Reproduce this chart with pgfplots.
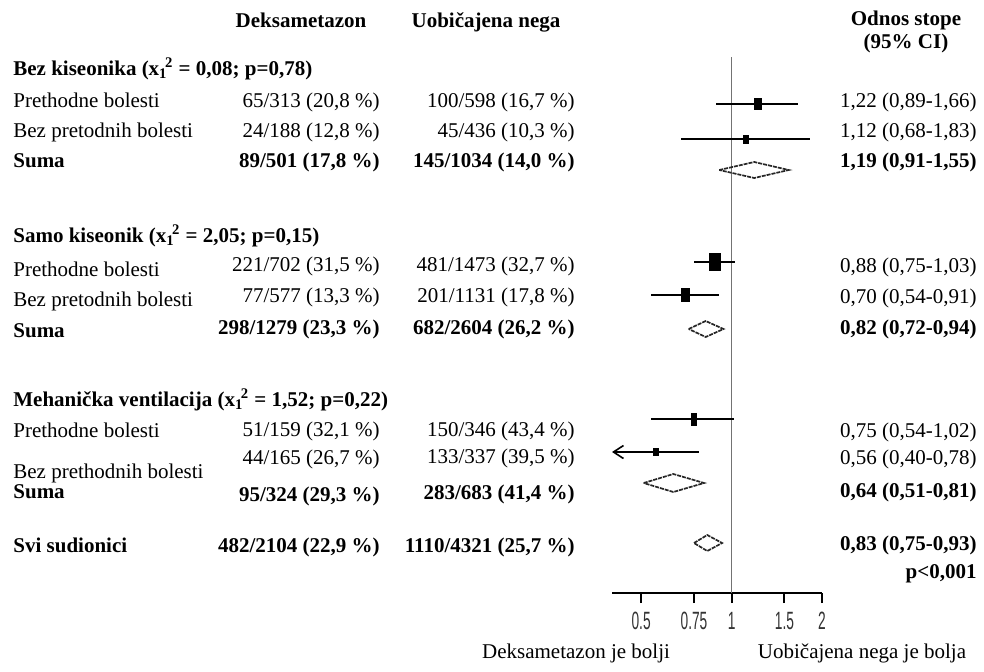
\documentclass[border=0pt]{standalone}
\usepackage{fontspec}
\setmainfont{Liberation Serif}
\newfontfamily\tickfont{Liberation Sans}
\usepackage{pgfplots}
\pgfplotsset{compat=1.18}
\usetikzlibrary{arrows.meta}
\newcommand\tl[1]{\scalebox{0.55}[1]{\tickfont #1}}
\newcommand\xchi{x\textsubscript{1}\kern-0.12em\textsuperscript{2}}
\begin{document}
\begin{tikzpicture}
\begin{scope}[x=0.5pt,y=-0.5pt]
\path[use as bounding box] (0,0) rectangle (984,671);
\end{scope}
\begin{axis}[
  at={(306pt,-296.5pt)}, anchor=south west,
  scale only axis, width=105pt, height=268pt,
  xmode=log, xmin=0.4, xmax=2, ymin=-593, ymax=-57,
  axis x line*=bottom, axis y line=none,
  xtick={0.5,0.75,1,1.5,2},
  xticklabels={\tl{0.5},\tl{0.75},\tl{1},\tl{1.5},\tl{2}},
  minor xtick={}, ytick={},
  tick align=outside, major tick length=5pt,
  x axis line style={line width=1.2pt},
  every tick/.style={black, line width=1pt},
  xticklabel style={text=black!80, font=\fontsize{12.5}{13}\selectfont, yshift=-1pt},
  clip=false,
]
% reference line
\addplot[black!55, line width=0.9pt] coordinates {(1,-57) (1,-593)};
% CI lines
\addplot[black, line width=1pt] coordinates {(0.89,-104) (1.66,-104)};
\addplot[black, line width=1pt] coordinates {(0.68,-139) (1.83,-139)};
\addplot[black, line width=1pt] coordinates {(0.75,-262) (1.03,-262)};
\addplot[black, line width=1pt] coordinates {(0.54,-295) (0.91,-295)};
\addplot[black, line width=1pt] coordinates {(0.54,-419) (1.02,-419)};
\addplot[black, line width=1pt, {Straight Barb[length=5pt,width=6.5pt,line width=0.8pt]}-] coordinates {(0.40,-452) (0.78,-452)};
% point estimates
\addplot[only marks, mark=square*, mark size=2.75pt, mark options={xscale=0.64}] coordinates {(1.22,-104)};
\addplot[only marks, mark=square*, mark size=2pt, mark options={xscale=0.63}] coordinates {(1.12,-139)};
\addplot[only marks, mark=square*, mark size=4.25pt, mark options={xscale=0.6}] coordinates {(0.88,-262)};
\addplot[only marks, mark=square*, mark size=3.25pt, mark options={xscale=0.62}] coordinates {(0.70,-295)};
\addplot[only marks, mark=square*, mark size=3pt, mark options={xscale=0.45}] coordinates {(0.75,-419)};
\addplot[only marks, mark=square*, mark size=1.75pt, mark options={xscale=0.7}] coordinates {(0.56,-452)};
% diamonds
\addplot[black!85, line width=0.85pt, dash pattern=on 2pt off 0.5pt] coordinates {(0.91,-170) (1.19,-162) (1.55,-170) (1.19,-178) (0.91,-170)};
\addplot[black!85, line width=0.85pt, dash pattern=on 2pt off 0.5pt] coordinates {(0.72,-329) (0.82,-321) (0.94,-329) (0.82,-337) (0.72,-329)};
\addplot[black!85, line width=0.85pt, dash pattern=on 2pt off 0.5pt] coordinates {(0.51,-483) (0.64,-474) (0.81,-483) (0.64,-492) (0.51,-483)};
\addplot[black!85, line width=0.85pt, dash pattern=on 2pt off 0.5pt] coordinates {(0.75,-543) (0.83,-535) (0.93,-543) (0.83,-551) (0.75,-543)};
\end{axis}
\begin{scope}[x=0.5pt,y=-0.5pt, every node/.style={font=\fontsize{10.5}{12}\selectfont, inner sep=0pt, anchor=mid}]
% headers
\node[font=\fontsize{10.5}{12}\selectfont\bfseries] at (301,23) {Deksametazon};
\node[font=\fontsize{10.5}{12}\selectfont\bfseries] at (486,23) {Uobičajena nega};
\node[font=\fontsize{10.5}{12}\selectfont\bfseries] at (906,21) {Odnos stope};
\node[font=\fontsize{10.5}{12}\selectfont\bfseries] at (906,44) {(95\% CI)};
% group 1
\node[anchor=mid west, font=\fontsize{10.5}{12}\selectfont\bfseries] at (13,71) {Bez kiseonika (\xchi{} = 0,08; p=0,78)};
\node[anchor=mid west] at (13,103) {Prethodne bolesti};
\node[anchor=mid west] at (13,133) {Bez pretodnih bolesti};
\node[anchor=mid west, font=\fontsize{10.5}{12}\selectfont\bfseries] at (13,163) {Suma};
\node[anchor=mid east] at (380,103) {65/313 (20,8 \%)};
\node[anchor=mid east] at (380,133) {24/188 (12,8 \%)};
\node[anchor=mid east, font=\fontsize{10.5}{12}\selectfont\bfseries] at (380,163) {89/501 (17,8 \%)};
\node[anchor=mid east] at (575,103) {100/598 (16,7 \%)};
\node[anchor=mid east] at (575,133) {45/436 (10,3 \%)};
\node[anchor=mid east, font=\fontsize{10.5}{12}\selectfont\bfseries] at (575,163) {145/1034 (14,0 \%)};
\node[anchor=mid east] at (977,103) {1,22 (0,89-1,66)};
\node[anchor=mid east] at (977,133) {1,12 (0,68-1,83)};
\node[anchor=mid east, font=\fontsize{10.5}{12}\selectfont\bfseries] at (977,163) {1,19 (0,91-1,55)};
% group 2
\node[anchor=mid west, font=\fontsize{10.5}{12}\selectfont\bfseries] at (13,238) {Samo kiseonik (\xchi{} = 2,05; p=0,15)};
\node[anchor=mid west] at (13,272) {Prethodne bolesti};
\node[anchor=mid west] at (13,302) {Bez pretodnih bolesti};
\node[anchor=mid west, font=\fontsize{10.5}{12}\selectfont\bfseries] at (13,333) {Suma};
\node[anchor=mid east] at (380,267) {221/702 (31,5 \%)};
\node[anchor=mid east] at (380,298) {77/577 (13,3 \%)};
\node[anchor=mid east, font=\fontsize{10.5}{12}\selectfont\bfseries] at (380,330) {298/1279 (23,3 \%)};
\node[anchor=mid east] at (575,267) {481/1473 (32,7 \%)};
\node[anchor=mid east] at (575,298) {201/1131 (17,8 \%)};
\node[anchor=mid east, font=\fontsize{10.5}{12}\selectfont\bfseries] at (575,330) {682/2604 (26,2 \%)};
\node[anchor=mid east] at (977,268) {0,88 (0,75-1,03)};
\node[anchor=mid east] at (977,299) {0,70 (0,54-0,91)};
\node[anchor=mid east, font=\fontsize{10.5}{12}\selectfont\bfseries] at (977,330) {0,82 (0,72-0,94)};
% group 3
\node[anchor=mid west, font=\fontsize{10.5}{12}\selectfont\bfseries] at (13,402) {Mehanička ventilacija (\xchi{} = 1,52; p=0,22)};
\node[anchor=mid west] at (13,433) {Prethodne bolesti};
\node[anchor=mid west] at (13,474) {Bez prethodnih bolesti};
\node[anchor=mid west, font=\fontsize{10.5}{12}\selectfont\bfseries] at (13,494) {Suma};
\node[anchor=mid east] at (380,432) {51/159 (32,1 \%)};
\node[anchor=mid east] at (380,460) {44/165 (26,7 \%)};
\node[anchor=mid east, font=\fontsize{10.5}{12}\selectfont\bfseries] at (380,497) {95/324 (29,3 \%)};
\node[anchor=mid east] at (575,432) {150/346 (43,4 \%)};
\node[anchor=mid east] at (575,459) {133/337 (39,5 \%)};
\node[anchor=mid east, font=\fontsize{10.5}{12}\selectfont\bfseries] at (575,495) {283/683 (41,4 \%)};
\node[anchor=mid east] at (977,433) {0,75 (0,54-1,02)};
\node[anchor=mid east] at (977,460) {0,56 (0,40-0,78)};
\node[anchor=mid east, font=\fontsize{10.5}{12}\selectfont\bfseries] at (977,493) {0,64 (0,51-0,81)};
% overall
\node[anchor=mid west, font=\fontsize{10.5}{12}\selectfont\bfseries] at (13,548) {Svi sudionici};
\node[anchor=mid east, font=\fontsize{10.5}{12}\selectfont\bfseries] at (380,548) {482/2104 (22,9 \%)};
\node[anchor=mid east, font=\fontsize{10.5}{12}\selectfont\bfseries] at (575,548) {1110/4321 (25,7 \%)};
\node[anchor=mid east, font=\fontsize{10.5}{12}\selectfont\bfseries] at (977,546) {0,83 (0,75-0,93)};
\node[anchor=mid east, font=\fontsize{10.5}{12}\selectfont\bfseries] at (977,574) {p<0,001};
% bottom
\node at (576,654) {Deksametazon je bolji};
\node at (862,654) {Uobičajena nega je bolja};
\end{scope}
\end{tikzpicture}
\end{document}
